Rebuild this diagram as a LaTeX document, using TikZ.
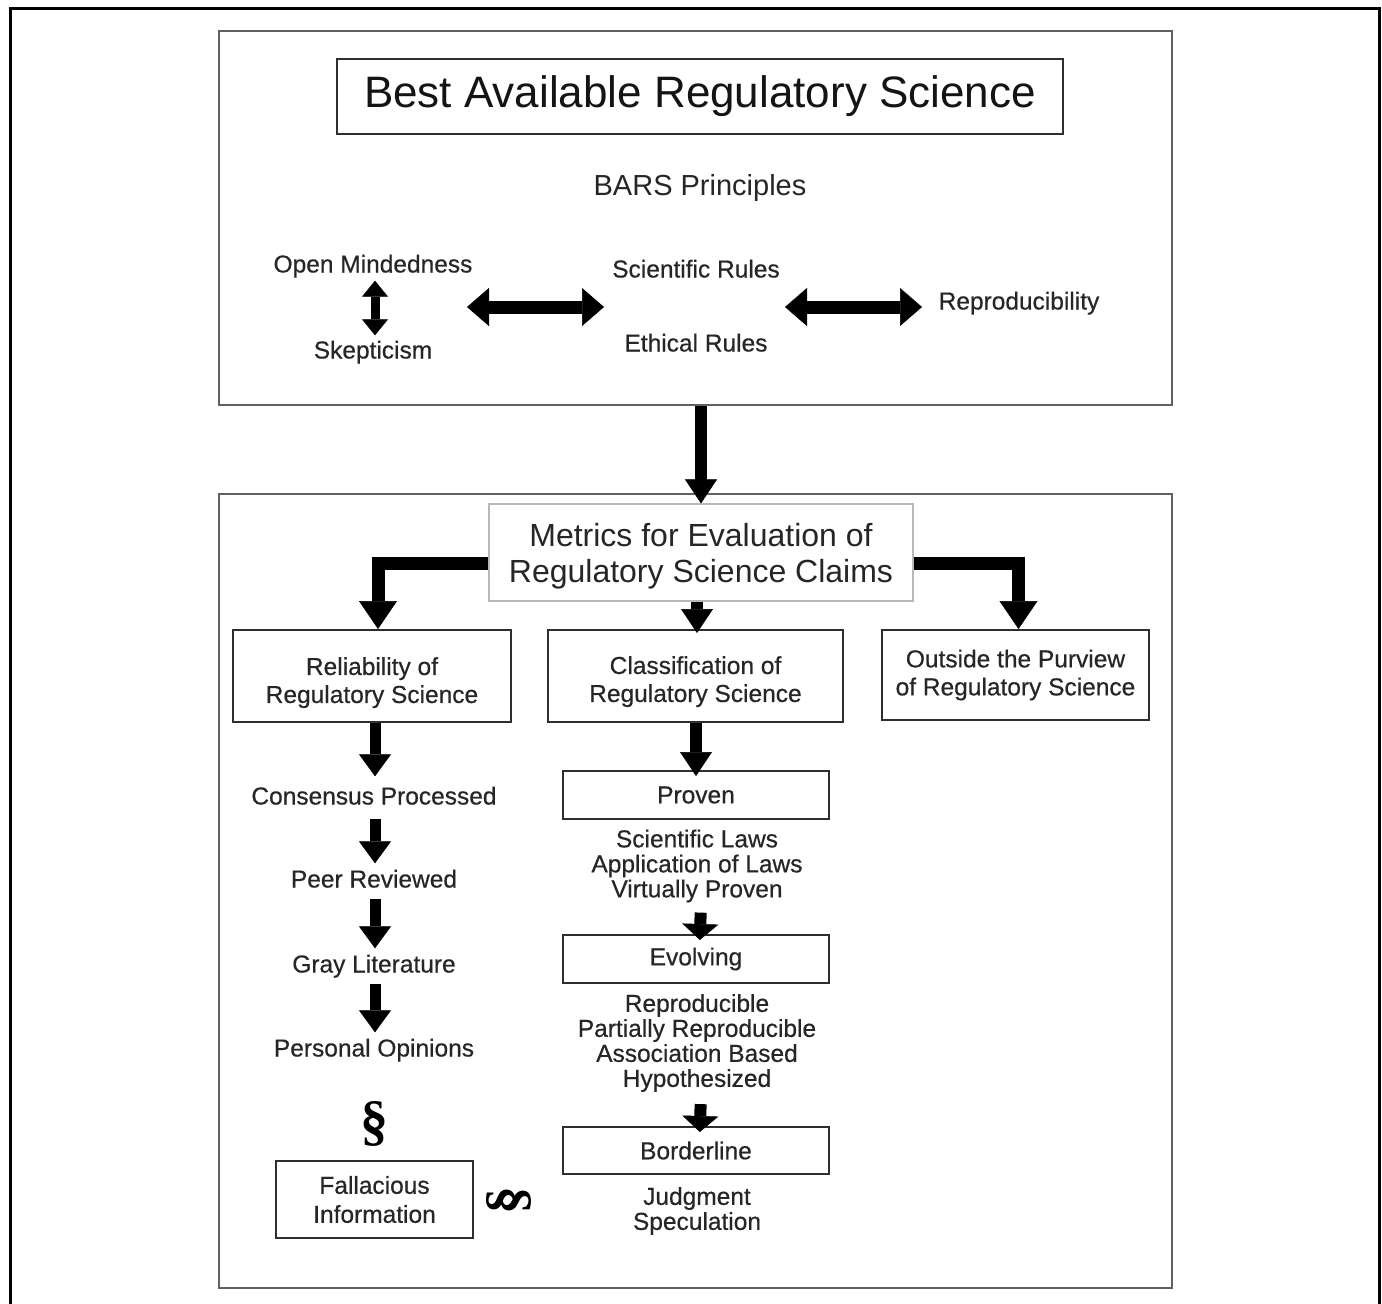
\documentclass[tikz,border=0pt]{standalone}
\usepackage{fontspec}
\setmainfont{Liberation Sans}
\newfontfamily\lblfont{Liberation Sans}[FakeBold=0.5]
\newfontfamily\serifsec{Liberation Serif}
\usetikzlibrary{arrows.meta}
\definecolor{txt}{gray}{0.15}
\definecolor{frm}{gray}{0.38}
\definecolor{bxc}{gray}{0.18}
\definecolor{mtc}{gray}{0.72}
\begin{document}
\begin{tikzpicture}[x=1pt,y=-1pt,
  lbl/.style={text=txt, inner sep=0pt, align=center, font=\lblfont\fontsize{24.5}{25}\selectfont, text height=18pt, text depth=5pt},
  lst/.style={text=txt, inner sep=0pt, align=center, font=\lblfont\fontsize{24.5}{25}\selectfont},
  bigframe/.style={draw=frm, line width=2.2pt, inner sep=0pt},
  smallbox/.style={draw=bxc, line width=2pt, inner sep=0pt, text=txt, align=center, font=\lblfont\fontsize{24.5}{28}\selectfont},
  bigarr/.style={draw=black, line width=12pt, -{Triangle[width=32pt,length=24pt,line width=0.5pt]}},
  elbow/.style={draw=black, line width=13pt, -{Triangle[width=38pt,length=28pt,line width=0.5pt]}},
  colarr/.style={draw=black, line width=11pt, -{Triangle[width=32pt,length=22pt,line width=0.5pt]}},
  shortarr/.style={draw=black, line width=12pt, -{Triangle[width=36pt,length=16pt,line width=0.5pt]}},
  dblarr/.style={draw=black, line width=13pt, {Triangle[width=38pt,length=22pt,line width=0.5pt]}-{Triangle[width=38pt,length=22pt,line width=0.5pt]}},
  vdblarr/.style={draw=black, line width=9pt, {Triangle[width=26pt,length=16pt,line width=0.5pt]}-{Triangle[width=26pt,length=16pt,line width=0.5pt]}},
  secsym/.style={text=black, inner sep=0pt, font=\serifsec\bfseries\fontsize{56}{58}\selectfont}
]
\useasboundingbox (0,0) rectangle (1382,1304);
\fill[white] (0,0) rectangle (1382,1304);
% outer frame
\draw[black, line width=3pt] (10,1310) -- (10,8) -- (1379,8) -- (1379,1310);

% top panel
\node[bigframe, minimum width=953pt, minimum height=374pt] (topbox) at (695.5,218) {};
\node[draw=bxc, line width=2pt, inner sep=0pt, minimum width=726pt, minimum height=75pt,
      text=black!92, font=\fontsize{44}{50}\selectfont] (title) at (700,96.5) {Best Available Regulatory Science};
\node[lbl, font=\fontsize{29}{30}\selectfont, text height=21pt, text depth=6pt] (bars) at (700,188) {BARS Principles};
\node[lbl] (open) at (373,266) {Open Mindedness};
\node[lbl] (skep) at (373,352) {Skepticism};
\node[lbl] (sci) at (696,271) {Scientific Rules};
\node[lbl] (eth) at (696,345) {Ethical Rules};
\node[lbl] (repro) at (1019,303) {Reproducibility};
\coordinate (la) at (467,307);
\coordinate (lb) at (604,307);
\coordinate (ra) at (785,307);
\coordinate (rb) at (922,307);
\draw[vdblarr, shorten <=3pt, shorten >=5pt] ([xshift=2pt]open.south) -- ([xshift=2pt]skep.north);
\draw[dblarr] (la) -- (lb);
\draw[dblarr] (ra) -- (rb);

% bottom panel
\node[bigframe, minimum width=953pt, minimum height=794pt] (botbox) at (695.5,891) {};
\node[draw=mtc, line width=1.2pt, inner sep=0pt, minimum width=424pt, minimum height=97pt,
      text=txt, align=center, font=\fontsize{32}{36}\selectfont, fill=white] (metrics) at (701,552.5)
      {\rule{0pt}{31.5pt}Metrics for Evaluation of\\Regulatory Science Claims};
\draw[bigarr] (metrics.north |- topbox.south) -- (metrics.north);

\node[smallbox, minimum width=278pt, minimum height=92pt] (rel) at (372,676) {\rule{0pt}{31pt}Reliability of\\Regulatory Science};
\node[smallbox, minimum width=295pt, minimum height=92pt] (cls) at (695.5,676) {\rule{0pt}{29pt}Classification of\\Regulatory Science};
\node[smallbox, minimum width=267pt, minimum height=90pt] (out) at (1015.5,675) {Outside the Purview\\of Regulatory Science};

\draw[elbow] ([yshift=-10.5pt]metrics.west) -| ([xshift=6pt]rel.north);
\draw[elbow] ([yshift=-10.5pt]metrics.east) -| ([xshift=3pt]out.north);
\draw[bigarr, shorten >=-4pt] ([xshift=1.5pt]cls.north |- metrics.south) -- ([xshift=1.5pt]cls.north);

% left column
\node[lbl] (cons) at (374,798) {Consensus Processed};
\node[lbl] (peer) at (374,881) {Peer Reviewed};
\node[lbl] (gray) at (374,966) {Gray Literature};
\node[lbl] (pers) at (374,1050) {Personal Opinions};
\draw[colarr, shorten >=10pt] ([xshift=1pt]cons.north |- rel.south) -- ([xshift=1pt]cons.north);
\draw[colarr, shorten <=9pt, shorten >=6pt] ([xshift=1pt]cons.south) -- ([xshift=1pt]peer.north);
\draw[colarr, shorten <=6pt, shorten >=6pt] ([xshift=1pt]peer.south) -- ([xshift=1pt]gray.north);
\draw[colarr, shorten <=6pt, shorten >=6pt] ([xshift=1pt]gray.south) -- ([xshift=1pt]pers.north);
\node[secsym] (sec1) at (374,1124) {§};
\node[smallbox, minimum width=197pt, minimum height=77pt, font=\lblfont\fontsize{24.5}{29}\selectfont] (fall) at (374.5,1199.5) {Fallacious\\Information};
\node[secsym, rotate=90] (sec2) at (509,1200) {§};

% middle column
\node[smallbox, minimum width=266pt, minimum height=48pt] (prov) at (696,795) {Proven};
\node[lst] (provlist) at (697,866) {Scientific Laws\\Application of Laws\\Virtually Proven};
\node[smallbox, minimum width=266pt, minimum height=48pt] (evol) at (696,959) {Evolving};
\node[lst] (evollist) at (697,1043) {Reproducible\\Partially Reproducible\\Association Based\\Hypothesized};
\node[smallbox, minimum width=266pt, minimum height=47pt] (bord) at (696,1150.5) {Borderline};
\node[lst] (judglist) at (697,1211) {Judgment\\Speculation};

\draw[bigarr, shorten >=-6pt] (cls.south -| prov.north) -- (prov.north);
\draw[shortarr, shorten <=10pt, shorten >=-6pt] ([xshift=4pt]provlist.south) -- ([xshift=4pt]evol.north);
\draw[shortarr, shorten <=12pt, shorten >=-6pt] ([xshift=4pt]evollist.south) -- ([xshift=4pt]bord.north);
\end{tikzpicture}
\end{document}
